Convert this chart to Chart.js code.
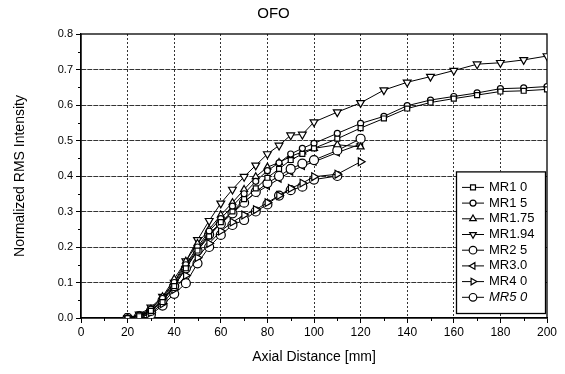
<!DOCTYPE html>
<html>
<head>
<meta charset="utf-8">
<script src="https://cdn.jsdelivr.net/npm/chart.js@4"></script>
<style>
html,body{margin:0;padding:0;background:#fff;}
#wrap{width:565px;height:374px;}
</style>
</head>
<body>
<div id="wrap"><canvas id="c" width="565" height="374"></canvas></div>
<script>
// ---- data ----
const chartTitle = "OFO";
const xTitle = "Axial Distance [mm]";
const yTitle = "Normalized RMS Intensity";
const seriesLabels = ["MR1 0", "MR1 5", "MR1.75", "MR1.94", "MR2 5", "MR3.0", "MR4 0", "MR5 0"];

const xLong  = [20,25,30,35,40,45,50,55,60,65,70,75,80,85,90,95,100,110,120,130,140,150,160,170,180,190,200];
const x120   = [20,25,30,35,40,45,50,55,60,65,70,75,80,85,90,95,100,110,120];
const x110   = [20,25,30,35,40,45,50,55,60,65,70,75,80,85,90,95,100,110];

const mr10  = [0,0.005,0.02,0.045,0.09,0.14,0.19,0.23,0.27,0.30,0.335,0.365,0.395,0.42,0.445,0.462,0.478,0.505,0.535,0.562,0.59,0.607,0.618,0.628,0.638,0.64,0.644];
const mr15  = [0,0.008,0.025,0.055,0.10,0.15,0.20,0.245,0.28,0.315,0.35,0.385,0.415,0.437,0.462,0.478,0.492,0.52,0.548,0.568,0.598,0.614,0.624,0.634,0.646,0.648,0.652];
const mr175 = [0,0.006,0.025,0.06,0.11,0.16,0.21,0.25,0.29,0.325,0.362,0.398,0.425,0.438,0.455,0.468,0.478,0.488,0.482];
const mr194 = [0,0.01,0.03,0.06,0.10,0.16,0.22,0.274,0.323,0.362,0.398,0.43,0.462,0.486,0.515,0.517,0.552,0.58,0.606,0.642,0.664,0.68,0.697,0.715,0.719,0.727,0.738];
const mr25  = [0,0.005,0.02,0.05,0.09,0.14,0.19,0.235,0.265,0.295,0.325,0.355,0.38,0.40,0.42,0.435,0.445,0.472,0.505];
const mr30  = [0,0.005,0.02,0.05,0.095,0.145,0.195,0.238,0.268,0.298,0.328,0.352,0.372,0.392,0.412,0.428,0.44,0.466,0.49];
const mr40  = [0,0.005,0.015,0.04,0.08,0.12,0.17,0.21,0.245,0.27,0.29,0.305,0.325,0.345,0.365,0.38,0.398,0.405,0.44];
const mr50  = [0,0.004,0.01,0.035,0.068,0.098,0.154,0.20,0.234,0.262,0.276,0.30,0.32,0.345,0.36,0.37,0.39,0.40];

const xTicksStep = 20;
const yTicksStep = 0.1;

// ---- build ----
function pts(xs, ys){ return xs.map((x,i)=>({x:x, y:ys[i]})); }

const seriesX = [xLong, xLong, x120, xLong, x120, x120, x120, x110];
const seriesY = [mr10, mr15, mr175, mr194, mr25, mr30, mr40, mr50];
const styles = [
  {pointStyle:'rect', rotation:0, radius:3.5},
  {pointStyle:'circle', rotation:0, radius:3},
  {pointStyle:'triangle', rotation:0, radius:4},
  {pointStyle:'triangle', rotation:180, radius:4.5},
  {pointStyle:'circle', rotation:0, radius:4.5},
  {pointStyle:'triangle', rotation:270, radius:4},
  {pointStyle:'triangle', rotation:90, radius:4.5},
  {pointStyle:'circle', rotation:0, radius:4.5}
];

const datasets = seriesLabels.map((lab,i)=>({
  label: lab,
  data: pts(seriesX[i], seriesY[i]),
  borderColor:'#000',
  borderWidth:1,
  backgroundColor:'#fff',
  pointBackgroundColor:'#fff',
  pointBorderColor:'#000',
  pointBorderWidth:1.2,
  pointStyle: styles[i].pointStyle,
  rotation: styles[i].rotation,
  pointRadius: styles[i].radius,
  tension:0,
  fill:false
}));

const FONT = '"Liberation Sans", Arial, sans-serif';

const framePlugin = {
  id:'frame',
  beforeDatasetsDraw(chart){
    const a = chart.chartArea, ctx = chart.ctx;
    ctx.save();
    ctx.strokeStyle = '#000';
    ctx.lineWidth = 1.3;
    ctx.strokeRect(a.left, a.top, a.right-a.left, a.bottom-a.top);
    // minor ticks
    const xs = chart.scales.x, ys = chart.scales.y;
    ctx.lineWidth = 1;
    for (let v = xs.min + xTicksStep/2; v < xs.max; v += xTicksStep){
      const px = Math.round(xs.getPixelForValue(v))+0.5;
      ctx.beginPath(); ctx.moveTo(px, a.bottom); ctx.lineTo(px, a.bottom+3); ctx.stroke();
    }
    for (let v = ys.min + yTicksStep/2; v < ys.max; v += yTicksStep){
      const py = Math.round(ys.getPixelForValue(v))+0.5;
      ctx.beginPath(); ctx.moveTo(a.left, py); ctx.lineTo(a.left-3, py); ctx.stroke();
    }
    ctx.restore();
  },
  afterDraw(chart){
    const a = chart.chartArea, ctx = chart.ctx;
    const n = chart.data.datasets.length;
    const rowH = 15.7;
    const boxR = a.right - 2, boxB = a.bottom - 5;
    const boxL = boxR - 89, boxT = boxB - (n*rowH + 16);
    ctx.save();
    ctx.fillStyle = '#fff';
    ctx.fillRect(boxL, boxT, boxR-boxL, boxB-boxT);
    ctx.strokeStyle = '#000';
    ctx.lineWidth = 1.3;
    ctx.strokeRect(boxL+0.5, boxT+0.5, boxR-boxL, boxB-boxT);
    chart.data.datasets.forEach((ds,i)=>{
      const cy = boxT + 16 + i*rowH;
      const lx0 = boxL + 6, lx1 = boxL + 28, mx = (lx0+lx1)/2;
      ctx.strokeStyle = '#000'; ctx.lineWidth = 1;
      ctx.beginPath(); ctx.moveTo(lx0, cy); ctx.lineTo(lx1, cy); ctx.stroke();
      ctx.fillStyle = '#fff'; ctx.strokeStyle = '#000'; ctx.lineWidth = 1.2;
      Chart.helpers.drawPoint(ctx, {pointStyle: ds.pointStyle, rotation: ds.rotation, radius: Math.min(ds.pointRadius,3.8), borderWidth:1.2}, mx, cy);
      ctx.fillStyle = '#000';
      ctx.font = (i === n-1 ? 'italic ' : '') + '13px ' + FONT;
      ctx.textBaseline = 'middle';
      ctx.textAlign = 'left';
      ctx.fillText(ds.label, boxL + 33, cy);
    });
    ctx.restore();
  }
};

const gridColor = '#333';

new Chart(document.getElementById('c'), {
  type:'line',
  data:{datasets},
  options:{
    responsive:false,
    animation:false,
    devicePixelRatio:1,
    layout:{padding:{left:0,right:18,top:0,bottom:0}},
    plugins:{
      legend:{display:false},
      tooltip:{enabled:false},
      title:{display:true, text:chartTitle, color:'#000',
        font:{family:FONT, size:15, weight:'normal'},
        padding:{top:5,bottom:11}}
    },
    scales:{
      x:{
        type:'linear', min:0, max:200,
        ticks:{stepSize:xTicksStep, color:'#000', padding:2,
          font:{family:FONT, size:12}},
        grid:{color:(c)=> (c.tick && (c.tick.value===0 || c.tick.value===200)) ? 'rgba(0,0,0,0)' : gridColor,
          tickColor:'#000', tickLength:5, lineWidth:1, drawTicks:true},
        border:{display:true, color:'#000', width:1.3, dash:[2,2]},
        title:{display:true, text:xTitle, color:'#000',
          font:{family:FONT, size:14}, padding:{top:4,bottom:8}},
        afterFit(s){ s.height = 56; }
      },
      y:{
        type:'linear', min:0, max:0.8,
        ticks:{stepSize:yTicksStep, color:'#000', padding:3,
          font:{family:FONT, size:11},
          callback:(v)=>Number(v).toFixed(1)},
        grid:{color:(c)=> (c.tick && (c.tick.value===0 || Math.abs(c.tick.value-0.8)<1e-9)) ? 'rgba(0,0,0,0)' : gridColor,
          tickColor:'#000', tickLength:5, lineWidth:1},
        border:{display:true, color:'#000', width:1.3, dash:[5,1]},
        title:{display:true, text:yTitle, color:'#000',
          font:{family:FONT, size:14}, padding:{top:12,bottom:0}},
        afterFit(s){ s.width = 81; }
      }
    }
  },
  plugins:[framePlugin]
});
</script>
</body>
</html>
